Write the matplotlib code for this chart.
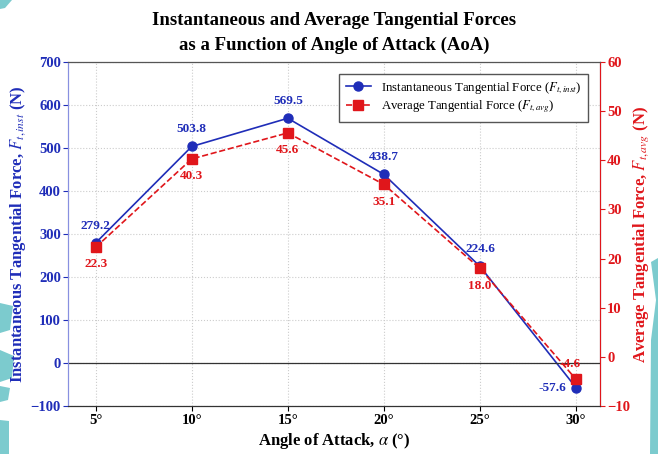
import matplotlib
matplotlib.use("Agg")
import matplotlib.pyplot as plt
from matplotlib.patches import Polygon

plt.rcParams['font.family'] = ['Liberation Serif', 'DejaVu Serif']
plt.rcParams['mathtext.fontset'] = 'stix'

angles = [5, 10, 15, 20, 25, 30]
angle_labels = ['5°', '10°', '15°', '20°', '25°', '30°']
f_inst = [279.2, 503.8, 569.5, 438.7, 224.6, -57.6]
f_avg = [22.3, 40.3, 45.6, 35.1, 18.0, -4.6]

blue = '#1f2db8'
red = '#e0161b'
teal = '#7ccbce'

W, H = 658, 454
fig, ax = plt.subplots(figsize=(W / 100, H / 100), dpi=100)
fig.subplots_adjust(left=0.103, right=0.912, top=0.863, bottom=0.106)
ax2 = ax.twinx()

# teal swooshes at the page edges (pixel outlines, top-left origin)
shapes = [
    [(0, 0), (12, 0), (5, 8), (0, 9)],
    [(0, 303), (13, 306), (10, 330), (0, 333)],
    [(0, 350), (14, 356), (12, 378), (0, 382)],
    [(0, 386), (10, 388), (8, 400), (0, 402)],
    [(0, 420), (9, 421), (9, 454), (0, 454)],
    [(651, 262), (658, 258), (658, 454), (650, 454), (651, 340), (656, 300)],
]
for pts in shapes:
    fig.patches.append(Polygon([(x / W, 1 - y / H) for x, y in pts], closed=True,
                               transform=fig.transFigure, facecolor=teal,
                               edgecolor='none', zorder=-1))

l1, = ax.plot(angles, f_inst, '-o', color=blue, lw=1.2, ms=6.5,
              label=r'Instantaneous Tangential Force ($F_{t,inst}$)')
l2, = ax2.plot(angles, f_avg, '--s', color=red, lw=1.2, ms=6.5,
               label=r'Average Tangential Force ($F_{t,avg}$)')

ax.axhline(0, color='#333333', lw=0.9)

ax.set_xlim(3.55, 31.25)
ax.set_ylim(-100, 700)
ax2.set_ylim(-10, 60)
ax.set_xticks(angles)
ax.set_xticklabels(angle_labels, fontweight='bold', fontsize=10.5)
ax.set_yticks(range(-100, 701, 100))
ax2.set_yticks(range(-10, 61, 10))
ax.grid(True, ls=':', color='#cccccc', lw=0.8)

for lab in ax.get_yticklabels():
    lab.set_fontweight('bold')
    lab.set_fontsize(10.5)
for lab in ax2.get_yticklabels():
    lab.set_fontweight('bold')
    lab.set_fontsize(10.5)

ax.tick_params(axis='x', pad=2)
ax.tick_params(axis='y', colors=blue, labelcolor=blue, pad=1.5)
ax2.tick_params(axis='y', colors=red, labelcolor=red, pad=1.5)
ax2.spines['left'].set_color('#8890e0')
ax2.spines['right'].set_color(red)
ax2.spines['top'].set_color('#555555')
ax2.spines['bottom'].set_color('#333333')
ax.spines['left'].set_color('#8890e0')

ax.set_xlabel(r'Angle of Attack, $\alpha$ (°)', fontsize=12, fontweight='bold', labelpad=3)
ax.set_ylabel(r'Instantaneous Tangential Force, $F_{t,inst}$ (N)', fontsize=12,
              fontweight='bold', color=blue, labelpad=2)
ax2.set_ylabel(r'Average Tangential Force, $F_{t,avg}$ (N)', fontsize=12,
               fontweight='bold', color=red, labelpad=1)
ax.set_title('Instantaneous and Average Tangential Forces\nas a Function of Angle of Attack (AoA)',
             fontsize=13.5, fontweight='bold', pad=9, linespacing=1.55)

# value labels
for i, (x, y) in enumerate(zip(angles, f_inst)):
    if i == len(angles) - 1:
        ax.annotate(f'{y:.1f}', (x, y), xytext=(-7, 0), textcoords='offset points',
                    ha='right', va='center', color=blue, fontweight='bold', fontsize=9.5)
    else:
        ax.annotate(f'{y:.1f}', (x, y), xytext=(0, 8), textcoords='offset points',
                    ha='center', va='bottom', color=blue, fontweight='bold', fontsize=9.5)
for i, (x, y) in enumerate(zip(angles, f_avg)):
    if i == len(angles) - 1:
        ax2.annotate(f'{y:.1f}', (x, y), xytext=(-4, 7), textcoords='offset points',
                     ha='center', va='bottom', color=red, fontweight='bold', fontsize=9.5)
    else:
        ax2.annotate(f'{y:.1f}', (x, y), xytext=(0, -8), textcoords='offset points',
                     ha='center', va='top', color=red, fontweight='bold', fontsize=9.5)

leg = ax2.legend(handles=[l1, l2], loc='upper right', fontsize=9.2, fancybox=False,
                 edgecolor='#555555', framealpha=1, borderpad=0.5, labelspacing=0.2,
                 bbox_to_anchor=(0.99, 0.985))
leg.get_frame().set_linewidth(1.0)

fig.savefig('out.png', dpi=100)
